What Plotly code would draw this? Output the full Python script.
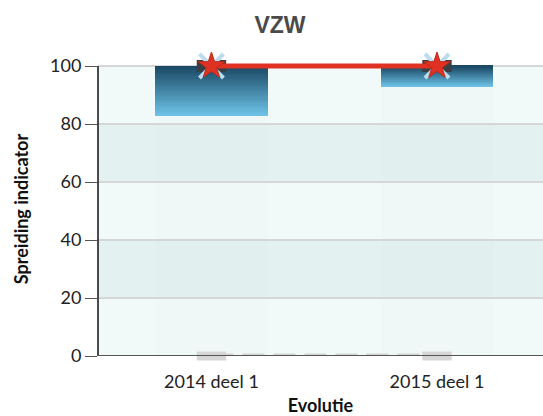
import plotly.graph_objects as go

# Data
categories = ["2014 deel 1", "2015 deel 1"]
range_low = [83, 93]
range_high = [100, 100]
indicator = [100, 100]
baseline = [0, 0]
y_ticks = [0, 20, 40, 60, 80, 100]

BAR_WIDTH = 0.50
N_STEPS = 40
TOP_RGB = (26, 72, 100)
BOTTOM_RGB = (110, 196, 232)

# Pixel layout of the plotting area (0 at y=356px, 100 at y=66px)
PLOT_TOP = 62
PLOT_BOTTOM_MARGIN = 60
PX_PER_UNIT = 2.9
Y_MAX = (416 - PLOT_BOTTOM_MARGIN - PLOT_TOP) / PX_PER_UNIT
X_RANGE = [-0.503, 1.47]


def blend(t):
    # t = 0 at bottom, 1 at top of a bar
    r = [round(b + (a - b) * t) for a, b in zip(TOP_RGB, BOTTOM_RGB)]
    return f"rgb({r[0]},{r[1]},{r[2]})"


fig = go.Figure()

# Gradient range bars, built as thin stacked slices from low to high
for i in range(N_STEPS):
    bases = []
    heights = []
    for lo, hi in zip(range_low, range_high):
        h = (hi - lo) / N_STEPS
        bases.append(lo + i * h)
        heights.append(h * 1.02)
    fig.add_trace(go.Bar(
        x=categories, y=heights, base=bases, width=BAR_WIDTH,
        marker=dict(color=blend((i + 0.5) / N_STEPS), line=dict(width=0)),
        showlegend=False, hoverinfo="skip",
    ))

# Baseline series: dashed grey line with block markers at zero
fig.add_trace(go.Scatter(
    x=categories, y=baseline, mode="lines",
    line=dict(color="#d4d4d4", width=5, dash="22px,9px"),
    cliponaxis=False, showlegend=False,
))
fig.add_trace(go.Scatter(
    x=categories, y=baseline, mode="markers",
    marker=dict(symbol="line-ew", size=21, line=dict(color="#d6d6d6", width=9)),
    cliponaxis=False, showlegend=False,
))

# Range top markers
fig.add_trace(go.Scatter(
    x=categories, y=range_high, mode="markers",
    marker=dict(symbol="line-ew", size=21, line=dict(color="#3a3f44", width=12)),
    cliponaxis=False, showlegend=False,
))
fig.add_trace(go.Scatter(
    x=categories, y=range_high, mode="markers",
    marker=dict(symbol="x-thin", size=24, line=dict(color="#bcdcee", width=4)),
    cliponaxis=False, showlegend=False,
))

# Indicator line with star markers
fig.add_trace(go.Scatter(
    x=categories, y=indicator, mode="lines+markers",
    line=dict(color="#e03222", width=5),
    marker=dict(symbol="star", size=20, color="#e03222",
                line=dict(color="#c02818", width=1)),
    cliponaxis=False, showlegend=False,
))

# Alternating horizontal bands
shapes = []
for k in range(len(y_ticks) - 1):
    shapes.append(dict(
        type="rect", xref="paper", yref="y", x0=0, x1=1,
        y0=y_ticks[k], y1=y_ticks[k + 1],
        fillcolor="#f1f9f9" if k in (0, 2, 4) else "#e3f1f1",
        line=dict(width=0), layer="below",
    ))
# Faint category columns
for idx in range(len(categories)):
    shapes.append(dict(
        type="rect", xref="x", yref="y",
        x0=idx - BAR_WIDTH / 2, x1=idx + BAR_WIDTH / 2, y0=0, y1=y_ticks[-1],
        fillcolor="rgba(0,40,40,0.006)", line=dict(width=0), layer="below",
    ))
# Axis lines: vertical y-axis line up to the top tick, dark line along zero
shapes.append(dict(type="line", xref="paper", yref="y", x0=0, x1=0,
                   y0=0, y1=y_ticks[-1], line=dict(color="#111", width=1.5),
                   layer="above"))
shapes.append(dict(type="line", xref="paper", yref="y", x0=0, x1=1,
                   y0=0, y1=0, line=dict(color="#555", width=2), layer="above"))

fig.update_layout(
    width=543, height=416,
    margin=dict(l=98, r=0, t=PLOT_TOP, b=PLOT_BOTTOM_MARGIN),
    paper_bgcolor="white", plot_bgcolor="white",
    barmode="overlay", bargap=0,
    shapes=shapes,
    font=dict(family="Lato", size=18, color="#222"),
    title=dict(
        text="<b>VZW</b>", x=280 / 543, xanchor="center", xref="container",
        y=1 - 25 / 416, yanchor="middle", yref="container",
        font=dict(family="Liberation Sans", size=23, color="#4a4a4a"),
    ),
    xaxis=dict(
        type="category", range=X_RANGE,
        showgrid=False, zeroline=False,
        showline=False, ticks="outside", ticklen=9, tickcolor="rgba(0,0,0,0)",
        tickfont=dict(size=18, color="#222"),
        title=dict(text="<b>Evolutie</b>", standoff=10,
                   font=dict(size=18, color="#111")),
    ),
    yaxis=dict(
        range=[0, Y_MAX], tickvals=y_ticks,
        showgrid=True, gridcolor="#d6d6d6", gridwidth=2,
        zeroline=False, showline=False,
        ticks="outside", ticklen=12, tickcolor="#555", tickwidth=1,
        tickfont=dict(size=18, color="#222"),
        title=dict(text="<b>Spreiding indicator</b>", standoff=16,
                   font=dict(size=18, color="#111")),
    ),
)

fig.write_html("out.html")
